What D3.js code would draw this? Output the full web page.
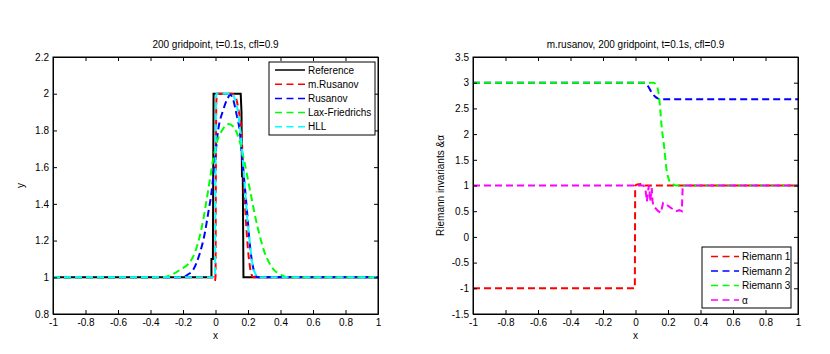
<!DOCTYPE html>
<html>
<head>
<meta charset="utf-8">
<script src="https://cdn.jsdelivr.net/npm/d3@7"></script>
<style>
  body { margin: 0; background: #fff; }
  text { font-family: "Liberation Sans", Arial, sans-serif; fill: #000; }
</style>
</head>
<body>
<svg id="fig" width="830" height="354"></svg>
<script>
// ---------------------------------------------------------------------------
// data
// ---------------------------------------------------------------------------

var xTicks = [-1, -0.8, -0.6, -0.4, -0.2, 0, 0.2, 0.4, 0.6, 0.8, 1];
var leftYTicks = [0.8, 1, 1.2, 1.4, 1.6, 1.8, 2, 2.2];
var rightYTicks = [-1.5, -1, -0.5, 0, 0.5, 1, 1.5, 2, 2.5, 3, 3.5];

var leftTitle = "200 gridpoint, t=0.1s, cfl=0.9";
var rightTitle = "m.rusanov, 200 gridpoint, t=0.1s, cfl=0.9";

var reference = [[-1, 1], [-0.025, 1], [-0.025, 1.1], [-0.016, 1.1], [-0.012, 2],
  [0.155, 2], [0.16, 1.9], [0.163, 1.55], [0.168, 1.55], [0.172, 1.0], [1, 1]];

var mRusanov = [[-1, 1], [-0.01, 1], [-0.004, 0.98], [0, 1.0], [0.002, 1.5],
  [0.005, 1.95], [0.01, 2.0], [0.1, 2.0], [0.12, 1.99], [0.14, 1.92], [0.16, 1.78],
  [0.17, 1.6], [0.18, 1.42], [0.19, 1.27], [0.2, 1.15], [0.21, 1.07], [0.22, 1.02],
  [0.235, 1.0], [1, 1]];

var rusanov = [[-1, 1], [-0.2, 1], [-0.17, 1.015], [-0.138, 1.04], [-0.097, 1.13],
  [-0.066, 1.24], [-0.045, 1.35], [-0.025, 1.46], [-0.01, 1.58], [0.016, 1.8],
  [0.047, 1.91], [0.078, 1.98], [0.09, 1.995], [0.108, 1.97], [0.129, 1.89],
  [0.15, 1.79], [0.165, 1.64], [0.18, 1.5], [0.195, 1.35], [0.21, 1.19],
  [0.23, 1.06], [0.245, 1.015], [0.26, 1.0], [1, 1]];

var laxFriedrichs = [[-1, 1], [-0.32, 1], [-0.28, 1.01], [-0.22, 1.04], [-0.148, 1.095],
  [-0.107, 1.19], [-0.076, 1.31], [-0.055, 1.42], [-0.035, 1.53], [-0.015, 1.64],
  [0.01, 1.74], [0.04, 1.80], [0.08, 1.835], [0.11, 1.82], [0.13, 1.79], [0.155, 1.72],
  [0.18, 1.62], [0.2, 1.53], [0.22, 1.44], [0.24, 1.35], [0.26, 1.27], [0.28, 1.2],
  [0.3, 1.14], [0.33, 1.08], [0.36, 1.04], [0.4, 1.015], [0.45, 1.0], [1, 1]];

var hll = [[-1, 1], [-0.003, 1], [0.0, 1.5], [0.004, 2.0], [0.1, 2.0], [0.12, 1.97],
  [0.14, 1.89], [0.155, 1.78], [0.17, 1.62], [0.18, 1.5], [0.19, 1.38], [0.2, 1.28],
  [0.21, 1.2], [0.22, 1.12], [0.23, 1.06], [0.245, 1.02], [0.26, 1.0], [1, 1]];

var riemann1 = [[-1, -1], [-0.004, -1], [-0.002, 1.0], [0.01, 1.02], [0.04, 1.03],
  [0.06, 1.0], [1, 1]];

var riemann2 = [[-1, 3], [0.058, 3], [0.075, 2.94], [0.09, 2.86], [0.105, 2.79],
  [0.12, 2.73], [0.14, 2.69], [0.16, 2.68], [1, 2.68]];

var riemann3 = [[-1, 3], [0.11, 3], [0.125, 2.97], [0.14, 2.83], [0.15, 2.57],
  [0.16, 2.18], [0.177, 1.73], [0.19, 1.34], [0.2, 1.17], [0.21, 1.08],
  [0.232, 1.02], [0.25, 1.0], [1, 1]];

var alpha = [[-1, 1], [0.05, 1], [0.063, 0.88], [0.07, 0.69], [0.08, 0.95],
  [0.085, 1.0], [0.09, 0.69], [0.1, 0.95], [0.105, 0.7], [0.11, 0.6], [0.14, 0.5],
  [0.155, 0.47], [0.17, 0.66], [0.19, 0.63], [0.22, 0.56], [0.25, 0.5], [0.27, 0.52],
  [0.285, 0.5], [0.29, 0.95], [0.3, 1.0], [1, 1]];

var leftSeries = [
  {name: "Reference", data: reference, color: "#000000", dash: null, curve: d3.curveLinear},
  {name: "m.Rusanov", data: mRusanov, color: "#ff0000", dash: "7,4", curve: d3.curveMonotoneX},
  {name: "Rusanov", data: rusanov, color: "#0000ff", dash: "7,4", curve: d3.curveMonotoneX},
  {name: "Lax-Friedrichs", data: laxFriedrichs, color: "#00ff00", dash: "7,4", curve: d3.curveMonotoneX},
  {name: "HLL", data: hll, color: "#00ffff", dash: "7,4", curve: d3.curveMonotoneX}
];

var rightSeries = [
  {name: "Riemann 1", data: riemann1, color: "#ff0000", dash: "7,4", curve: d3.curveLinear},
  {name: "Riemann 2", data: riemann2, color: "#0000ff", dash: "7,4", curve: d3.curveMonotoneX},
  {name: "Riemann 3", data: riemann3, color: "#00ff00", dash: "7,4", curve: d3.curveMonotoneX},
  {name: "\u03b1", data: alpha, color: "#ff00ff", dash: "7,4", curve: d3.curveLinear}
];

// ---------------------------------------------------------------------------
// drawing
// ---------------------------------------------------------------------------

var svg = d3.select("#fig");

function drawPanel (opts) {
  var x = d3.scaleLinear().domain([-1, 1]).range([opts.left, opts.right]);
  var y = d3.scaleLinear().domain(opts.yDomain).range([opts.bottom, opts.top]);
  var g = svg.append("g");
  var fmt = function (d) { return String(+d.toFixed(2)); };
  var tickLen = 4;

  // clip
  var clipId = "clip-" + opts.id;
  g.append("clipPath").attr("id", clipId).append("rect")
    .attr("x", opts.left).attr("y", opts.top)
    .attr("width", opts.right - opts.left).attr("height", opts.bottom - opts.top);

  // lines
  var plot = g.append("g").attr("clip-path", "url(#" + clipId + ")");
  opts.series.forEach(function (s) {
    var line = d3.line()
      .x(function (d) { return x(d[0]); })
      .y(function (d) { return y(d[1]); })
      .curve(s.curve);
    plot.append("path")
      .attr("d", line(s.data))
      .attr("fill", "none")
      .attr("stroke", s.color)
      .attr("stroke-width", 2)
      .attr("stroke-dasharray", s.dash);
  });

  // axes with inward ticks (box style)
  g.append("g").attr("transform", "translate(0," + opts.bottom + ")")
    .call(d3.axisBottom(x).tickValues(xTicks).tickFormat(fmt)
      .tickSizeInner(-tickLen).tickSizeOuter(0).tickPadding(5));
  g.append("g").attr("transform", "translate(0," + opts.top + ")")
    .call(d3.axisTop(x).tickValues(xTicks).tickFormat("")
      .tickSizeInner(-tickLen).tickSizeOuter(0));
  g.append("g").attr("transform", "translate(" + opts.left + ",0)")
    .call(d3.axisLeft(y).tickValues(opts.yTicks).tickFormat(fmt)
      .tickSizeInner(-tickLen).tickSizeOuter(0).tickPadding(4));
  g.append("g").attr("transform", "translate(" + opts.right + ",0)")
    .call(d3.axisRight(y).tickValues(opts.yTicks).tickFormat("")
      .tickSizeInner(-tickLen).tickSizeOuter(0));

  g.selectAll(".domain").attr("stroke", "#000");
  g.selectAll(".tick line").attr("stroke", "#000");
  g.selectAll(".tick text")
    .attr("font-family", "Liberation Sans, Arial, sans-serif")
    .attr("font-size", 10).attr("fill", "#000");

  // frame
  g.append("rect")
    .attr("x", opts.left).attr("y", opts.top)
    .attr("width", opts.right - opts.left).attr("height", opts.bottom - opts.top)
    .attr("fill", "none").attr("stroke", "#000").attr("stroke-width", 1);

  // title and labels
  var cx = (opts.left + opts.right) / 2;
  g.append("text").attr("x", cx).attr("y", 48)
    .attr("text-anchor", "middle").attr("font-size", 10).text(opts.title);
  g.append("text").attr("x", cx).attr("y", 339)
    .attr("text-anchor", "middle").attr("font-size", 10).text("x");
  g.append("text")
    .attr("transform", "translate(" + opts.yLabelX + "," + ((opts.top + opts.bottom) / 2) + ") rotate(-90)")
    .attr("text-anchor", "middle").attr("font-size", 10).text(opts.yLabel);

  // legend
  var lg = opts.legend;
  var leg = g.append("g");
  leg.append("rect")
    .attr("x", lg.x).attr("y", lg.y).attr("width", lg.w).attr("height", lg.h)
    .attr("fill", "#fff").attr("stroke", "#000").attr("stroke-width", 1);
  opts.series.forEach(function (s, i) {
    var ry = lg.rowY + i * lg.step;
    leg.append("line")
      .attr("x1", lg.lineX1).attr("x2", lg.lineX2).attr("y1", ry).attr("y2", ry)
      .attr("stroke", s.color).attr("stroke-width", 1.5)
      .attr("stroke-dasharray", s.dash ? "7,4.5" : null);
    leg.append("text")
      .attr("x", lg.textX).attr("y", ry).attr("dy", "0.35em")
      .attr("font-size", 10).text(s.name);
  });
}

drawPanel({
  id: "left", left: 53, right: 378, top: 57, bottom: 314,
  yDomain: [0.8, 2.2], yTicks: leftYTicks,
  series: leftSeries, title: leftTitle, yLabel: "y", yLabelX: 24,
  legend: {x: 269, y: 62, w: 106, h: 73, rowY: 70, step: 14.2,
           lineX1: 275, lineX2: 305, textX: 308}
});

drawPanel({
  id: "right", left: 473, right: 798, top: 57, bottom: 314,
  yDomain: [-1.5, 3.5], yTicks: rightYTicks,
  series: rightSeries, title: rightTitle, yLabel: "Riemann invariants &\u03b1", yLabelX: 444,
  legend: {x: 702, y: 247, w: 89, h: 61, rowY: 256.5, step: 14.5,
           lineX1: 711, lineX2: 739, textX: 742}
});
</script>
</body>
</html>
